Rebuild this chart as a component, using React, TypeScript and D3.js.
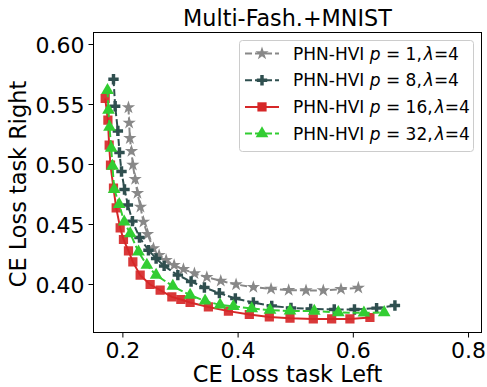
import React from "react";
import * as d3 from "d3";

const p1X = [0.2097,0.2109,0.2121,0.2149,0.2173,0.2213,0.2253,0.2305,0.2357,0.2427,0.2531,0.2629,0.2751,0.2890,0.3051,0.3242,0.3457,0.3699,0.3965,0.4265,0.4572,0.4878,0.5179,0.5479,0.5786,0.6087];
const p1Y = [0.5475,0.5347,0.5219,0.5111,0.4997,0.4878,0.4761,0.4647,0.4522,0.4419,0.4300,0.4244,0.4203,0.4161,0.4128,0.4092,0.4061,0.4030,0.4000,0.3978,0.3963,0.3953,0.3950,0.3950,0.3961,0.3972];

const p8X = [0.1837,0.1866,0.1913,0.1941,0.1976,0.2028,0.2087,0.2166,0.2288,0.2444,0.2577,0.2716,0.2954,0.3184,0.3415,0.3675,0.3952,0.4265,0.4584,0.4918,0.5260,0.5669,0.6020,0.6404,0.6722];
const p8Y = [0.5711,0.5486,0.5280,0.5100,0.4942,0.4792,0.4663,0.4528,0.4392,0.4286,0.4217,0.4155,0.4078,0.4025,0.3975,0.3928,0.3883,0.3850,0.3822,0.3805,0.3797,0.3792,0.3792,0.3803,0.3825];

const p16X = [0.1693,0.1740,0.1762,0.1785,0.1837,0.1884,0.1953,0.2010,0.2097,0.2173,0.2300,0.2473,0.2647,0.2850,0.3006,0.3167,0.3484,0.3832,0.4195,0.4542,0.4901,0.5305,0.5624,0.5941,0.6288];
const p16Y = [0.5550,0.5369,0.5161,0.4994,0.4803,0.4638,0.4472,0.4375,0.4280,0.4188,0.4078,0.4000,0.3953,0.3897,0.3875,0.3850,0.3813,0.3778,0.3750,0.3730,0.3719,0.3713,0.3713,0.3713,0.3725];

const p32X = [0.1733,0.1750,0.1768,0.1797,0.1820,0.1849,0.1936,0.2023,0.2127,0.2271,0.2416,0.2577,0.2867,0.3167,0.3427,0.3687,0.3918,0.4237,0.4554,0.4901,0.5322,0.5739,0.6184,0.6536];
const p32Y = [0.5619,0.5453,0.5311,0.5136,0.4986,0.4794,0.4669,0.4522,0.4425,0.4272,0.4161,0.4078,0.3986,0.3911,0.3863,0.3830,0.3819,0.3800,0.3786,0.3780,0.3778,0.3767,0.3763,0.3767];

const xTicks = [0.2, 0.4, 0.6, 0.8];
const yTicks = [0.40, 0.45, 0.50, 0.55, 0.60];
const pValues = ["1", "8", "16", "32"];

const W = 487, H = 387;
const L = 93.5, R = 481.5, T = 32.5, B = 332.5;
const FONT = "DejaVu Sans, sans-serif";

const series = [
  { xs: p1X, ys: p1Y, color: "#888888", dash: "7,3", symbol: d3.symbolStar, size: 55, p: pValues[0] },
  { xs: p8X, ys: p8Y, color: "#2f4f4f", dash: "7,3", symbol: d3.symbolCross, size: 60, p: pValues[1] },
  { xs: p16X, ys: p16Y, color: "#d62728", dash: null, symbol: d3.symbolSquare, size: 85, p: pValues[2] },
  { xs: p32X, ys: p32Y, color: "#32cd32", dash: "7,3", symbol: d3.symbolTriangle, size: 70, p: pValues[3] },
];

export default function App() {
  const x = d3.scaleLinear().domain([0.149, 0.8225]).range([L, R]);
  const y = d3.scaleLinear().domain([0.36, 0.61]).range([B, T]);
  const line = d3.line<[number, number]>().x(d => x(d[0])).y(d => y(d[1]));

  return (
    <svg width={W} height={H} style={{ position: "absolute", left: 0, top: 0 }} fontFamily={FONT}>
      <rect width={W} height={H} fill="#fff" />
      <defs>
        <clipPath id="plot"><rect x={L} y={T} width={R - L} height={B - T} /></clipPath>
      </defs>
      <g clipPath="url(#plot)">
        {series.map((s, i) => {
          const pts = s.xs.map((v, j) => [v, s.ys[j]] as [number, number]);
          const sym = d3.symbol().type(s.symbol).size(s.size)();
          return (
            <g key={i}>
              <path d={line(pts) || ""} fill="none" stroke={s.color} strokeWidth={2}
                strokeDasharray={s.dash || undefined} />
              {pts.map((p, j) => (
                <path key={j} d={sym || ""} transform={`translate(${x(p[0])},${y(p[1])})`}
                  fill={s.color} opacity={s.p === "16" ? 0.92 : 1} />
              ))}
            </g>
          );
        })}
      </g>
      <rect x={L} y={T} width={R - L} height={B - T} fill="none" stroke="#000" strokeWidth={1} />
      {xTicks.map(t => (
        <g key={t}>
          <line x1={x(t)} x2={x(t)} y1={B} y2={B + 5} stroke="#000" />
          <text x={x(t)} y={358} fontSize={22} textAnchor="middle">{t.toFixed(1)}</text>
        </g>
      ))}
      {yTicks.map(t => (
        <g key={t}>
          <line x1={L - 5} x2={L} y1={y(t)} y2={y(t)} stroke="#000" />
          <text x={L - 9} y={y(t) + 8} fontSize={22} textAnchor="end">{t.toFixed(2)}</text>
        </g>
      ))}
      <text x={(L + R) / 2} y={382} fontSize={22.4} textAnchor="middle">CE Loss task Left</text>
      <text transform={`translate(25.5,184) rotate(-90)`} fontSize={22.4} textAnchor="middle">CE Loss task Right</text>
      <text x={(L + R) / 2} y={26} fontSize={22.3} textAnchor="middle">Multi-Fash.+MNIST</text>
      <rect x={239.5} y={40.5} width={234} height={111} rx={3} fill="#fff" fillOpacity={0.8} stroke="#cccccc" />
      {series.map((s, i) => {
        const cy = 53.5 + i * 26.7;
        const sym = d3.symbol().type(s.symbol).size(s.size)();
        return (
          <g key={i}>
            <line x1={245} x2={279} y1={cy} y2={cy} stroke={s.color} strokeWidth={2} strokeDasharray={s.dash || undefined} />
            <path d={sym || ""} transform={`translate(262,${cy})`} fill={s.color} />
            <text x={293} y={cy + 6} fontSize={17}>
              <tspan>PHN-HVI </tspan>
              <tspan fontStyle="italic">p</tspan>
              <tspan> = {s.p},</tspan>
              <tspan fontStyle="italic" dx={2}>λ</tspan>
              <tspan>=4</tspan>
            </text>
          </g>
        );
      })}
    </svg>
  );
}
